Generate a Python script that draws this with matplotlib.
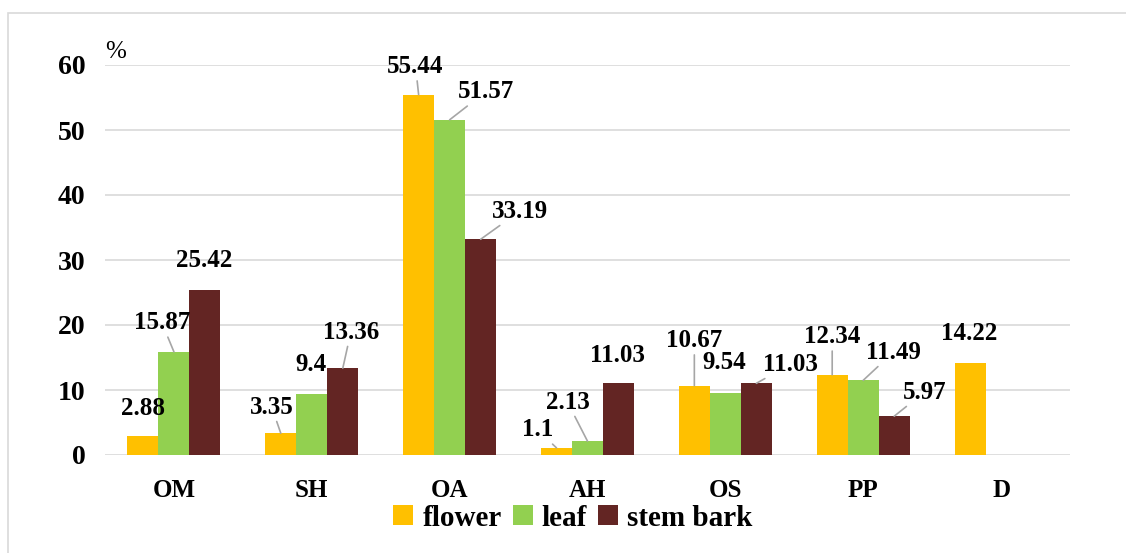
import matplotlib
matplotlib.use("Agg")
import matplotlib.pyplot as plt
from matplotlib.patches import Rectangle
import numpy as np

categories = ["OM", "SH", "OA", "AH", "OS", "PP", "D"]
flower = [2.88, 3.35, 55.44, 1.1, 10.67, 12.34, 14.22]
leaf = [15.87, 9.4, 51.57, 2.13, 9.54, 11.49, np.nan]
stem_bark = [25.42, 13.36, 33.19, 11.03, 11.03, 5.97, np.nan]
series_names = ["flower", "leaf", "stem bark"]
colors = ["#FFC000", "#92D050", "#632523"]
yticks = [0, 10, 20, 30, 40, 50, 60]

# label offsets (pixels) relative to bar top; leader flag
offsets = [
    [(0, 28, False), (-12, 29, True), (-1, 29, False)],
    [(-9, 26, True), (-1, 29, False), (8, 36, True)],
    [(-3, 28, True), (36, 28, True), (39, 28, True)],
    [(-19, 18, True), (-20, 39, True), (-1, 28, False)],
    [(0, 45, True), (-1, 30, False), (34, 19, True)],
    [(0, 38, True), (30, 28, True), (30, 24, True)],
    [(-1, 29, False), None, None],
]

plt.rcParams['font.family'] = ['Liberation Serif', 'DejaVu Serif']
plt.rcParams['font.weight'] = 'bold'

W, H = 1126, 553
fig = plt.figure(figsize=(W / 100, H / 100), dpi=100)
fig.patches.append(Rectangle((8 / W, -0.1), 1.2, (H - 13) / H + 0.1,
                             transform=fig.transFigure, fill=False,
                             edgecolor="#d9d9d9", lw=1.2, zorder=0))

ax = fig.add_axes([105 / W, (H - 455) / H, (1070 - 105) / W, (455 - 65) / H])
x = np.arange(len(categories))
bw = 0.225
data = [flower, leaf, stem_bark]
for j, (vals, name, c) in enumerate(zip(data, series_names, colors)):
    xs = x + (j - 1) * bw
    ax.bar(xs, vals, width=bw, color=c, label=name, zorder=3)
    for i, v in enumerate(vals):
        if np.isnan(v):
            continue
        dx, dy, lead = offsets[i][j]
        txt = f"{v:g}"
        kw = dict(xy=(xs[i], v), xytext=(dx, dy), textcoords="offset pixels",
                  ha="center", va="center", fontsize=18, fontweight="bold",
                  color="#000000", zorder=5)
        if lead:
            kw["arrowprops"] = dict(arrowstyle="-", color="#a6a6a6", lw=1.2,
                                    shrinkA=0, shrinkB=0)
        ax.annotate(txt, **kw)

ax.set_xlim(-0.5, len(categories) - 0.5)
ax.set_ylim(0, 60)
ax.set_yticks(yticks)
ax.set_yticklabels([str(t) for t in yticks], fontsize=20, fontweight="bold")
ax.set_xticks(x)
ax.set_xticklabels(categories, fontsize=18, fontweight="bold")
ax.tick_params(axis="y", length=0, pad=14)
ax.tick_params(axis="x", length=0, pad=17)
for s in ax.spines.values():
    s.set_visible(False)
ax.yaxis.grid(True, color="#d9d9d9", lw=1.2, zorder=0)
ax.set_axisbelow(True)

fig.text(105 / W, 1 - 52 / H, "%", fontsize=18, fontweight="normal",
         ha="left", va="center")

fig.legend(loc="center", bbox_to_anchor=(573 / W, 1 - 518 / H), ncol=3,
           frameon=False, handlelength=0.69, handleheight=0.69,
           handletextpad=0.31, columnspacing=0.38,
           prop=dict(weight="bold", size=21))

fig.savefig("out.png", dpi=100)
